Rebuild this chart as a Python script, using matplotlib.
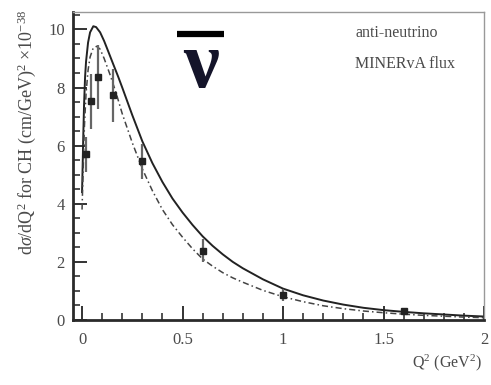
import matplotlib
matplotlib.use("Agg")
import matplotlib.pyplot as plt
from matplotlib.ticker import MultipleLocator
from matplotlib.lines import Line2D

plt.rcParams["mathtext.fontset"] = "custom"
plt.rcParams["mathtext.rm"] = "Liberation Serif"
plt.rcParams["mathtext.it"] = "Liberation Serif:italic"

# Q^2 grid and model curves (units of 1e-38 cm^2/GeV^2)
q2_full = [0.0, 0.003, 0.006, 0.01, 0.015, 0.02, 0.03, 0.04, 0.056, 0.07, 0.09,
           0.11, 0.13, 0.156, 0.18, 0.2, 0.25, 0.3, 0.35, 0.4, 0.45, 0.5, 0.55,
           0.6, 0.65, 0.7, 0.75, 0.8, 0.9, 1.0, 1.1, 1.2, 1.3, 1.4, 1.5, 1.6,
           1.7, 1.8, 1.9, 2.0]
xsec_full = [4.4, 5.3, 6.3, 7.4, 8.35, 8.9, 9.55, 9.9, 10.11, 10.08, 9.9,
             9.6, 9.25, 8.79, 8.37, 8.0, 7.05, 6.15, 5.4, 4.75, 4.18, 3.7, 3.27,
             2.88, 2.55, 2.26, 2.0, 1.78, 1.4, 1.08, 0.85, 0.67, 0.53, 0.42, 0.34, 0.28,
             0.23, 0.19, 0.15, 0.12]

q2_alt = [0.0, 0.004, 0.008, 0.012, 0.02, 0.03, 0.04, 0.055, 0.073, 0.09, 0.11,
          0.139, 0.17, 0.2, 0.25, 0.3, 0.35, 0.4, 0.45, 0.5, 0.55, 0.6, 0.65,
          0.7, 0.75, 0.8, 0.9, 1.0, 1.1, 1.2, 1.3, 1.4, 1.5, 1.6, 1.7, 1.8,
          1.9, 2.0]
xsec_alt = [3.8, 4.8, 5.8, 6.7, 7.8, 8.6, 9.05, 9.35, 9.42, 9.32, 9.0,
            8.45, 7.8, 7.1, 6.1, 5.2, 4.45, 3.8, 3.28, 2.85, 2.45, 2.1, 1.85,
            1.63, 1.45, 1.3, 1.02, 0.8, 0.63, 0.49, 0.39, 0.31, 0.25, 0.2, 0.16, 0.13,
            0.1, 0.08]

# MINERvA anti-neutrino data
q2_data = [0.02, 0.043, 0.078, 0.156, 0.30, 0.60, 1.0, 1.6]
xsec_data = [5.7, 7.53, 8.37, 7.73, 5.46, 2.39, 0.86, 0.31]
xsec_err = [0.6, 0.95, 1.1, 0.9, 0.6, 0.4, 0.2, 0.1]

x_ticks = [0, 0.5, 1, 1.5, 2]
x_tick_labels = ["0", "0.5", "1", "1.5", "2"]
y_ticks = [0, 2, 4, 6, 8, 10]
y_tick_labels = ["0", "2", "4", "6", "8", "10"]

serif = ["Liberation Serif", "DejaVu Serif"]
text_col = "#4a4a4a"

fig = plt.figure(figsize=(4.91, 3.85), dpi=100)
ax = fig.add_axes([73 / 491, 1 - 320 / 385, (484 - 73) / 491, (320 - 12) / 385])

ax.plot(q2_full, xsec_full, color="#222222", lw=1.4, solid_joinstyle="round")
ax.plot(q2_alt, xsec_alt, color="#444444", lw=1.1, linestyle=(0, (4, 2, 1, 2)))
ax.errorbar(q2_data, xsec_data, yerr=xsec_err, fmt="s", color="#222222",
            ms=4, ecolor="#666666", elinewidth=1.6, capsize=0)

ax.set_xlim(-0.045, 2.0)
ax.set_ylim(0, 10.6)
ax.set_xticks(x_ticks)
ax.set_xticklabels(x_tick_labels, family=serif, fontsize=12, color=text_col)
ax.set_yticks(y_ticks)
ax.set_yticklabels(y_tick_labels, family=serif, fontsize=12, color=text_col)
ax.xaxis.set_minor_locator(MultipleLocator(0.1))
ax.yaxis.set_minor_locator(MultipleLocator(0.5))
ax.tick_params(which="major", direction="in", length=10, width=1.4, color="#333333",
               top=False, right=False, pad=6)
ax.tick_params(which="minor", direction="in", length=5, width=1.2, color="#333333",
               top=False, right=False)
ax.tick_params(axis="x", pad=9)

for side in ("left", "bottom"):
    ax.spines[side].set_linewidth(2.0)
    ax.spines[side].set_color("#2a2a2a")
for side in ("top", "right"):
    ax.spines[side].set_linewidth(1.0)
    ax.spines[side].set_color("#999999")

fig.text(27 / 491, 1 - 132 / 385,
         r"d$\sigma$/dQ$^2$ for CH (cm/GeV)$^2$ $\times$10$^{-38}$",
         family=serif, fontsize=13, color=text_col, rotation=90,
         ha="center", va="center")
fig.text(482 / 491, 1 - 363 / 385, r"Q$^2$ (GeV$^2$)", family=serif, fontsize=11.5,
         color=text_col, ha="right", va="center")

fig.text(355 / 491, 1 - 33 / 385, "anti-neutrino",
         family=serif, fontsize=11.5, color=text_col, ha="left", va="center")
fig.text(355 / 491, 1 - 64 / 385, "MINERvA flux",
         family=serif, fontsize=11.5, color=text_col, ha="left", va="center")

# anti-neutrino symbol: overbar plus nu
fig.add_artist(Line2D([177 / 491, 224 / 491], [1 - 34 / 385, 1 - 34 / 385],
                      transform=fig.transFigure, color="black", lw=4.5,
                      solid_capstyle="butt"))
fig.text(201 / 491, 1 - 68 / 385, "\u03bd", family=serif, fontsize=58,
         fontweight="bold", color="#14142a", ha="center", va="center")

fig.savefig("out.png", dpi=100)
